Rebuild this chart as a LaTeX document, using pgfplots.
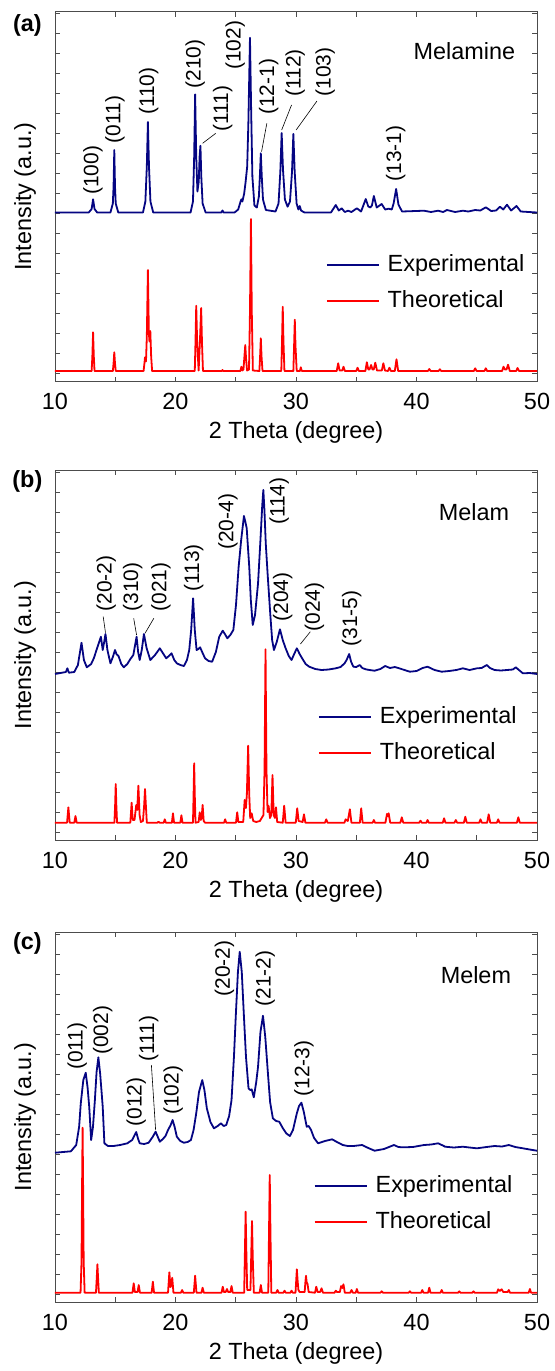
\documentclass[border=0pt]{standalone}
\usepackage{fontspec}
\setmainfont{Liberation Sans}
\usepackage{pgfplots}
\pgfplotsset{compat=1.18}
\definecolor{expblue}{RGB}{5,5,130}
\definecolor{thred}{RGB}{255,0,0}
\newcommand\bigf{\fontsize{23.5}{28}\selectfont}
\newcommand\hklf{\fontsize{21}{25}\selectfont}
\pgfplotsset{xrd/.style={
 scale only axis, width=482bp, height=370bp,
 xmin=10,xmax=50,ymin=0,ymax=370,
 xtick={10,20,30,40,50}, minor xtick={15,25,35,45},
 ytick={8,28,...,368}, yticklabels={},
 tick align=inside, major tick length=5bp, minor tick length=5bp,
 axis line style={black!70, line width=0.8bp},
 every tick/.append style={black!70, line width=0.6bp},
 xticklabel style={font=\bigf, anchor=center, yshift=-20bp},
 /pgf/number format/assume math mode=true,
 xlabel={2 Theta (degree)}, ylabel={Intensity (a.u.)},
 xlabel style={font=\bigf, at={(axis description cs:0.5,-0.138)}, anchor=center},
 ylabel style={font=\bigf, at={(axis description cs:-0.0622,0.5)}, anchor=center},
 legend cell align=left,
 legend image code/.code={\draw[#1] (0bp,0bp) -- (52bp,0bp);},
 legend style={draw=none, fill=none, inner sep=0pt, outer sep=0pt, font=\bigf, anchor=west,
   nodes={inner sep=0pt, text height=17bp, text depth=5bp},
   row sep=14bp, /tikz/every odd column/.append style={column sep=8bp}},
 every axis plot/.append style={line width=1.8bp, line join=round},
}}
\newcommand\hkl[3]{\node[rotate=90, anchor=west, inner sep=0pt, font=\hklf] at (axis cs:#1,#2) {#3};}
\newcommand\lead[4]{\draw[black, line width=0.6bp] (axis cs:#1,#2) -- (axis cs:#3,#4);}
\begin{document}
\begin{tikzpicture}
\useasboundingbox (0,0) rectangle (555bp,-1371bp);
% ---------------- (a) Melamine
\begin{axis}[xrd, at={(55bp,-381.5bp)}, anchor=south west,
  legend style={at={(axis cs:32.48,98.5)}}]
\addplot[expblue] coordinates {
(10,169) (12.8,169) (13.04,172.5) (13.16,182.2) (13.28,172.5) (13.5,169)
(14.6,169) (14.8,178) (14.86,195) (14.92,231.5) (14.98,195) (15.04,178) (15.25,169)
(17.3,169) (17.5,180) (17.62,215) (17.71,259.5) (17.8,215) (17.92,180) (18.15,169)
(21.25,169) (21.45,180) (21.55,225) (21.63,287.2) (21.72,225) (21.82,190) (21.93,200) (22.0,225) (22.07,235.8) (22.14,205) (22.25,178) (22.5,169)
(23.8,169) (23.9,171) (24.0,169)
(24.9,169) (25.2,172) (25.4,180) (25.47,182.2) (25.55,180) (25.7,188) (25.82,199.8) (25.95,215) (26.05,260) (26.18,343.8) (26.28,270) (26.38,205) (26.55,176) (26.75,174) (26.92,185) (27.0,205) (27.08,228.2) (27.16,205) (27.26,182) (27.5,171.5)
(28.3,170) (28.55,178) (28.7,210) (28.81,248.5) (28.92,212) (29.08,182) (29.3,174.8) (29.5,180) (29.67,210) (29.78,247.5) (29.89,210) (30.05,178) (30.2,172) (30.31,175.5) (30.42,171) (30.7,169)
(32.9,169) (33.3,176.5) (33.55,171) (33.79,173.2) (34.05,169.5) (34.32,170.8) (34.6,169.5) (35.05,173.2) (35.4,170) (35.79,182.5) (36.0,175) (36.17,174) (36.3,176) (36.46,185.5) (36.7,174) (37.11,177.5) (37.4,172) (37.69,172.8) (37.95,172) (38.1,178) (38.31,192.5) (38.5,177) (38.8,170)
(40.62,170.8) (41.2,169.5) (41.79,170.8) (42.2,169.5) (42.53,171.5) (43.2,169.5) (43.85,170.8) (44.3,170) (44.87,171.5) (45.3,171) (45.75,174.2) (46.2,170.5) (46.6,171) (46.92,174.8) (47.2,172) (47.51,176.8) (47.85,171) (48.3,175.5) (48.65,170) (50,169)
};
\addplot[thred] coordinates {
(10,10.5) (13.04,10.5) (13.1,25) (13.16,49.2) (13.22,25) (13.28,10.5)
(14.8,10.5) (14.86,18) (14.92,29.2) (14.98,18) (15.04,10.5)
(17.35,10.5) (17.42,18) (17.47,24.2) (17.55,20) (17.62,45) (17.71,111.5) (17.79,48) (17.84,40) (17.91,50.5) (17.98,25) (18.06,10.5)
(21.6,10.5) (21.66,40) (21.72,75.8) (21.8,38) (21.92,11) (22.02,38) (22.13,73.5) (22.2,38) (22.28,10.5)
(23.85,10.5) (23.9,11.5) (23.95,10.5)
(25.38,10.5) (25.47,14.8) (25.55,11) (25.64,12) (25.72,25) (25.79,36.5) (25.86,22) (25.94,11) (26.1,12) (26.18,70) (26.26,162.5) (26.33,70) (26.42,11) (26.96,10.5) (27.02,25) (27.08,43.2) (27.14,25) (27.22,10.5)
(28.78,10.5) (28.84,40) (28.9,74.8) (28.96,40) (29.04,10.5) (29.78,10.5) (29.84,35) (29.9,61.8) (29.96,35) (30.06,10.5) (30.32,10.5) (30.4,14.2) (30.48,10.5)
(33.38,10.5) (33.5,18.2) (33.62,11) (33.84,11) (33.94,14.8) (34.06,10.5) (35.0,10.5) (35.11,13.8) (35.22,10.5) (35.76,10.5) (35.88,19.2) (36.0,12) (36.1,12) (36.23,16.5) (36.35,12) (36.45,12) (36.58,18.8) (36.72,11) (37.12,11) (37.25,18.2) (37.38,11) (37.64,10.5) (37.75,13.8) (37.88,10.5) (38.2,10.5) (38.34,22.2) (38.48,10.5)
(40.95,10.5) (41.06,12.5) (41.17,10.5) (41.83,10.5) (41.94,12.2) (42.05,10.5) (44.76,10.5) (44.87,13.2) (44.98,10.5) (45.64,10.5) (45.75,13.2) (45.86,10.5) (47.1,10.5) (47.22,14.8) (47.34,12) (47.47,12) (47.6,16.8) (47.74,10.5) (48.27,10.5) (48.39,13.5) (48.51,10.5) (50,10.5)
};
\legend{Experimental,Theoretical}
\node[anchor=east, inner sep=0pt, font=\bigf] at (axis cs:48.2,330) {Melamine};
\hkl{13.16}{186.5}{(100)}
\hkl{14.98}{238}{(011)}
\hkl{17.77}{266.5}{(110)}
\hkl{21.63}{293}{(210)}
\hkl{23.92}{249.8}{(111)}
\lead{22.25}{238.2}{23.34}{248.2}
\hkl{24.95}{311.5}{(102)}
\hkl{27.73}{266.5}{(12-1)}
\lead{27.14}{229.8}{27.58}{258.2}
\hkl{29.93}{284.8}{(112)}
\lead{28.81}{251.5}{29.63}{276.5}
\hkl{32.42}{284.8}{(103)}
\lead{30.01}{251.5}{31.74}{280.5}
\hkl{38.28}{199.8}{(13-1)}
\end{axis}
% ---------------- (b) Melam
\begin{axis}[xrd, at={(55bp,-840bp)}, anchor=south west,
  legend style={at={(axis cs:31.83,105)}}]
\addplot[expblue] coordinates {
(10,166) (10.9,168) (11.03,171.7) (11.15,167.3) (11.6,168) (11.9,175) (12.2,197.3) (12.4,180) (12.64,172.7) (13.0,176) (13.22,181.7) (13.5,192) (13.81,203.3) (13.96,190) (14.08,198) (14.19,206) (14.35,190) (14.6,176.7) (14.8,183) (14.98,190) (15.1,186) (15.27,184) (15.5,176) (15.71,172.7) (16.0,176) (16.24,180.7) (16.5,185) (16.77,203.3) (16.9,188) (17.03,180) (17.2,190) (17.38,206) (17.6,192) (17.91,180) (18.3,185) (18.7,191.7) (19.0,186) (19.23,181.7) (19.45,184) (19.67,186.7) (19.9,180) (20.11,176.7) (20.4,175) (20.7,174) (20.95,180) (21.14,190) (21.3,210) (21.46,241.7) (21.6,210) (21.75,190) (21.9,191) (22.04,192.7) (22.25,187) (22.45,181.7) (22.75,179) (23.04,178.3) (23.35,188) (23.63,203.3) (23.92,209.3) (24.1,206) (24.3,201.7) (24.55,205) (24.8,210) (25.02,235) (25.24,273.3) (25.45,300) (25.68,324) (25.8,318) (25.91,311.7) (26.0,295) (26.12,273.3) (26.25,240) (26.41,215) (26.6,225) (26.85,256.7) (27.05,300) (27.2,335) (27.29,350) (27.38,330) (27.49,296.7) (27.65,265) (27.88,223.3) (28.02,200) (28.17,190) (28.4,198) (28.67,210.7) (28.9,200) (29.14,191.7) (29.4,184) (29.63,180) (29.85,186) (30.07,191.7) (30.3,186) (30.51,181.7) (30.8,176) (31.1,173.3) (31.6,171) (32.12,170) (32.7,170.5) (33.3,171.7) (33.7,173) (34.03,176.7) (34.2,180) (34.41,186) (34.58,178) (34.76,173.3) (35.0,173) (35.29,175) (35.5,172) (35.79,170.7) (36.1,170) (36.52,169.3) (37.0,171) (37.4,174) (37.8,172) (38.2,173) (38.57,171.7) (39.0,170) (39.45,168.3) (40.0,169) (40.5,172) (40.92,173.3) (41.5,170) (42.09,168.3) (42.7,169) (43.3,170) (43.85,171.7) (44.4,170) (45.02,171.7) (45.4,172) (45.84,175) (46.1,172) (46.48,170) (47.0,169.5) (47.5,170) (48.0,170.5) (48.24,172.7) (48.5,170) (48.83,166.7) (49.4,167) (50,166)
};
\addplot[thred] coordinates {
(10,17.3) (11.0,17.3) (11.11,32.7) (11.22,17.3) (11.6,17.3) (11.7,24) (11.8,17.3)
(14.93,17.3) (14.99,35) (15.04,56) (15.09,35) (15.15,17.3)
(16.25,17.3) (16.36,37.3) (16.45,20) (16.6,20) (16.74,35) (16.82,30) (16.92,54.3) (17.02,25) (17.12,18) (17.3,19) (17.4,35) (17.47,51) (17.54,35) (17.62,17.3)
(18.5,17.3) (18.59,18.3) (18.68,17.3) (19.02,17.3) (19.11,20.7) (19.2,17.3) (19.7,17.3) (19.79,26.7) (19.88,17.3) (20.4,17.3) (20.49,24.7) (20.58,17.3)
(21.45,17.3) (21.5,45) (21.55,76.7) (21.6,45) (21.66,17.3) (21.92,18) (22.01,27.7) (22.1,20) (22.17,22) (22.25,35) (22.34,19) (22.45,17.3)
(24.03,17.3) (24.12,20.7) (24.21,17.3) (25.02,17.3) (25.12,27.7) (25.22,18) (25.62,18) (25.74,40) (25.84,32) (25.92,45) (26.03,94.3) (26.12,45) (26.2,22) (26.32,26.7) (26.45,19) (26.7,18) (27.0,19) (27.3,25) (27.39,70) (27.47,190.7) (27.55,70) (27.64,28) (27.73,34) (27.84,22) (27.95,25) (28.05,65) (28.15,25) (28.25,22) (28.34,32.7) (28.44,18) (28.9,17.3) (29.02,34.3) (29.14,17.3) (29.98,17.3) (30.1,31.7) (30.22,19) (30.55,18) (30.66,25.7) (30.78,17.3)
(32.4,17.3) (32.51,20.7) (32.62,17.3) (34.02,17.3) (34.12,20.7) (34.3,19) (34.47,30.7) (34.6,17.3) (35.3,17.3) (35.41,31.7) (35.53,17.3) (36.36,17.3) (36.46,20) (36.56,17.3) (37.42,17.3) (37.55,26) (37.62,24) (37.69,26.7) (37.82,17.3) (38.66,17.3) (38.78,22.7) (38.9,17.3) (40.22,17.3) (40.33,19.3) (40.44,17.3) (40.82,17.3) (40.92,20) (41.02,17.3) (42.18,17.3) (42.29,21.7) (42.4,17.3) (43.15,17.3) (43.26,20) (43.37,17.3) (43.93,17.3) (44.05,23.3) (44.17,17.3) (45.2,17.3) (45.31,20.7) (45.42,17.3) (45.86,17.3) (45.99,25.7) (46.12,17.3) (46.67,17.3) (46.78,20.7) (46.89,17.3) (48.33,17.3) (48.45,22.7) (48.57,17.3) (50,17.3)
};
\legend{Experimental,Theoretical}
\node[anchor=east, inner sep=0pt, font=\bigf] at (axis cs:47.7,328.3) {Melam};
\hkl{14.25}{228.3}{(20-2)}
\lead{14.19}{207.3}{14.0}{223.3}
\hkl{16.45}{228.3}{(310)}
\lead{16.77}{205}{16.53}{221.7}
\hkl{18.79}{228.3}{(021)}
\lead{17.47}{206.7}{18.2}{221.7}
\hkl{21.52}{248.3}{(113)}
\hkl{24.36}{290}{(20-4)}
\hkl{28.61}{315}{(114)}
\hkl{28.9}{218.3}{(204)}
\hkl{31.54}{208.3}{(024)}
\lead{30.37}{196}{31.19}{208.3}
\hkl{34.62}{193.3}{(31-5)}
\end{axis}
% ---------------- (c) Melem
\begin{axis}[xrd, at={(55bp,-1302bp)}, anchor=south west,
  legend style={at={(axis cs:31.48,97.7)}}]
\addplot[expblue] coordinates {
(10,149.3) (11.32,150.7) (11.76,157) (12.0,175) (12.14,198.7) (12.35,222) (12.55,229.3) (12.7,215) (12.84,195.3) (13.0,162) (13.15,175) (13.31,202) (13.45,230) (13.6,244.7) (13.75,228) (13.96,195.3) (14.1,158.7) (14.4,156) (14.84,156) (15.4,157) (16.0,158.7) (16.4,162) (16.74,170) (16.9,163) (17.03,158.7) (17.4,158) (17.77,159.3) (18.1,165) (18.35,170.3) (18.5,166) (18.7,160.3) (18.95,163) (19.17,166) (19.38,172) (19.6,177) (19.76,182) (19.93,175) (20.11,165.3) (20.4,161) (20.7,159.3) (21.0,160) (21.28,162) (21.5,172) (21.72,188.7) (21.95,210) (22.22,222) (22.4,212) (22.6,193.7) (22.9,180) (23.19,173.7) (23.5,176) (23.77,178.7) (24.0,176) (24.21,177) (24.45,186) (24.65,202) (24.85,245) (25.0,285.3) (25.18,330) (25.33,350.3) (25.5,330) (25.68,285.3) (25.85,245) (26.06,213.7) (26.2,212) (26.32,212.7) (26.5,204.7) (26.7,220) (26.85,235.3) (27.05,270) (27.26,286.3) (27.45,265) (27.67,228.7) (27.85,200) (28.08,183.7) (28.35,181) (28.61,180.3) (28.9,174) (29.19,168.7) (29.49,166) (29.75,172) (30.07,188.7) (30.25,196) (30.45,199.3) (30.65,190) (30.89,175.3) (31.05,176) (31.25,172) (31.5,164) (31.83,158.7) (32.4,161) (33.0,162.7) (33.4,160) (33.88,157) (34.3,156) (34.76,156) (35.1,156.5) (35.49,157) (36.0,154) (36.52,151.3) (37.3,153) (38.13,157) (38.5,155) (38.86,154.7) (39.7,155) (40.62,157) (41.2,157.5) (41.79,158.7) (42.1,157) (42.38,155.3) (43.1,154.5) (43.85,155.3) (44.4,154.5) (45.02,153.7) (45.8,155) (46.48,156) (47.1,155.5) (47.66,157) (48.2,155) (48.83,153.7) (49.4,152.5) (50,151.3)
};
\addplot[thred] coordinates {
(10,9.3) (12.12,9.3) (12.2,40) (12.25,120) (12.29,174.3) (12.33,120) (12.38,40) (12.46,9.3)
(13.4,9.3) (13.47,25) (13.52,37.7) (13.57,25) (13.64,9.3)
(16.43,9.3) (16.53,18.7) (16.63,10) (16.85,10) (16.95,17) (17.05,9.3) (18.02,9.3) (18.12,20.3) (18.22,9.3) (19.38,9.3) (19.49,29.7) (19.58,15) (19.64,16) (19.73,24.3) (19.83,9.3) (20.45,9.3) (20.55,12) (20.65,9.3) (21.52,9.3) (21.63,26.3) (21.74,9.3) (22.15,9.3) (22.25,14.3) (22.35,9.3)
(23.82,9.3) (23.92,15.3) (24.02,10) (24.17,10) (24.27,13) (24.37,10) (24.55,10) (24.65,16) (24.75,9.3)
(25.7,9.3) (25.76,50) (25.82,90.3) (25.88,50) (25.95,12) (26.22,12) (26.29,50) (26.35,81) (26.41,45) (26.5,9.3) (26.98,9.3) (27.08,17) (27.18,9.3) (27.7,9.3) (27.76,70) (27.82,127) (27.88,70) (27.95,9.3) (28.36,9.3) (28.46,12) (28.56,9.3) (28.95,9.3) (29.05,11.3) (29.15,9.3) (29.53,9.3) (29.63,11.3) (29.73,9.3)
(29.96,9.3) (30.02,22) (30.07,32.7) (30.13,22) (30.2,12) (30.3,10) (30.72,10) (30.78,20) (30.83,26.3) (30.89,19) (30.95,18.7) (31.05,10) (31.58,9.3) (31.68,15.3) (31.8,10) (32.0,10) (32.12,13.7) (32.24,9.3)
(33.2,9.3) (33.3,11.3) (33.4,10) (33.64,10) (33.74,16) (33.84,14) (33.94,17.7) (34.05,9.3) (34.5,9.3) (34.61,12) (34.72,9.3) (34.95,9.3) (35.05,13) (35.15,9.3) (37.0,9.3) (37.11,10.7) (37.22,9.3) (39.35,9.3) (39.45,10.7) (39.55,9.3) (40.38,9.3) (40.48,12) (40.58,9.3) (40.96,9.3) (41.06,14.3) (41.16,9.3) (41.99,9.3) (42.09,12) (42.19,9.3) (43.45,9.3) (43.55,10.7) (43.65,9.3) (44.63,9.3) (44.73,10.7) (44.83,9.3) (46.68,9.3) (46.78,12.7) (46.92,11) (47.07,12.7) (47.2,10) (47.56,10) (47.66,12) (47.76,9.3) (49.31,9.3) (49.41,13) (49.51,9.3) (50,9.3)
};
\legend{Experimental,Theoretical}
\node[anchor=east, inner sep=0pt, font=\bigf] at (axis cs:47.86,327) {Melem};
\hkl{11.85}{232}{(011)}
\hkl{13.96}{247}{(002)}
\hkl{16.74}{175.3}{(012)}
\hkl{17.77}{240.3}{(111)}
\lead{18.35}{172}{18.0}{237}
\hkl{19.82}{187}{(102)}
\hkl{24.07}{305.3}{(20-2)}
\hkl{27.44}{295.3}{(21-2)}
\hkl{30.66}{205.3}{(12-3)}
\end{axis}
\node[font=\bfseries\bigf] at (27.4bp,-25bp) {(a)};
\node[font=\bfseries\bigf] at (27.4bp,-481.7bp) {(b)};
\node[font=\bfseries\bigf] at (27.4bp,-943.3bp) {(c)};
\end{tikzpicture}
\end{document}
